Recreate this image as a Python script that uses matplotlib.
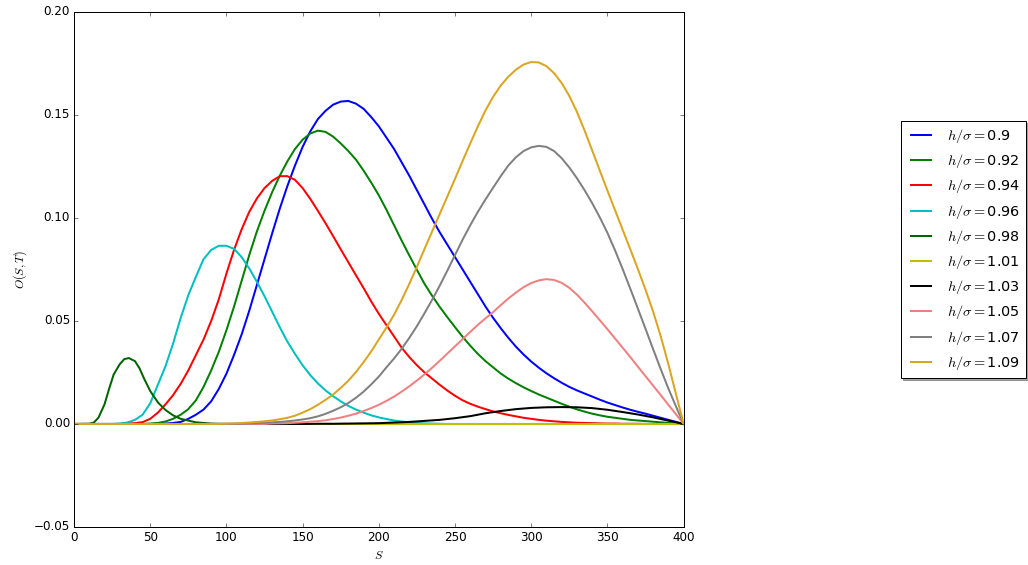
import matplotlib
matplotlib.use('Agg')
from matplotlib import pyplot as plt

###########################
# données (pas de 5 sur S)
S5 = list(range(0, 401, 5))

O_090 = [0, 0, 0, 0, 0, 0, 0, 0, 0, 0, 0,
         0.0001, 0.0002, 0.0005, 0.001, 0.0025, 0.0045, 0.007, 0.011, 0.017, 0.0244,
         0.0335, 0.0435, 0.055, 0.0675, 0.080, 0.0925, 0.1045, 0.1155, 0.1255, 0.1345,
         0.142, 0.148, 0.152, 0.155, 0.1565, 0.1568, 0.1555, 0.153, 0.149, 0.1445,
         0.139, 0.1335, 0.127, 0.1205, 0.1135, 0.1065, 0.0995, 0.093, 0.087, 0.081,
         0.075, 0.069, 0.063, 0.057, 0.0515, 0.0465, 0.0418, 0.0375, 0.0337, 0.0303,
         0.0273, 0.0246, 0.0222, 0.020, 0.018, 0.0163, 0.0148, 0.0133, 0.0118, 0.0104,
         0.0092, 0.008, 0.0069, 0.0059, 0.005, 0.004, 0.003, 0.002, 0.001, 0]
O_092 = [0, 0, 0, 0, 0, 0, 0, 0, 0, 0, 0.0002,
         0.0005, 0.0012, 0.0025, 0.0045, 0.0072, 0.0115, 0.018, 0.026, 0.035, 0.0455,
         0.057, 0.0695, 0.082, 0.0935, 0.1035, 0.1125, 0.1205, 0.1275, 0.1335, 0.138,
         0.141, 0.1424, 0.1418, 0.1395, 0.1362, 0.1325, 0.1283, 0.123, 0.1172, 0.111,
         0.104, 0.0965, 0.089, 0.0818, 0.0748, 0.068, 0.0622, 0.0568, 0.0518, 0.047,
         0.0423, 0.038, 0.034, 0.0305, 0.0275, 0.0245, 0.022, 0.0198, 0.0178, 0.016,
         0.0143, 0.0128, 0.0113, 0.0098, 0.0084, 0.0071, 0.006, 0.005, 0.0042, 0.0035,
         0.003, 0.0025, 0.002, 0.0017, 0.0014, 0.0011, 0.0008, 0.0005, 0.0002, 0]
O_094 = [0, 0, 0, 0, 0, 0, 0, 0.0002,
         0.0004, 0.0009, 0.0025, 0.0055, 0.0095, 0.014, 0.0195, 0.026, 0.0335, 0.041,
         0.050, 0.0605, 0.073, 0.0845, 0.0945, 0.103, 0.1095, 0.1145, 0.118, 0.1203,
         0.1203, 0.1185, 0.1145, 0.1093, 0.1035, 0.0975, 0.0912, 0.0848, 0.0785, 0.0722,
         0.066, 0.0595, 0.0535, 0.048, 0.0425, 0.037, 0.0325, 0.0285, 0.025, 0.022,
         0.019, 0.0162, 0.0137, 0.0115, 0.0098, 0.0084, 0.0072, 0.0061, 0.0052, 0.0044,
         0.0037, 0.003, 0.0025, 0.002, 0.0016, 0.0013, 0.001, 0.0008, 0.0006, 0.0005,
         0.0004, 0.0003, 0.0002, 0.0002, 0.0001, 0.0001, 0.0001, 0, 0, 0, 0, 0, 0]
O_096 = [0, 0, 0, 0, 0, 0,
         0.0002, 0.0007, 0.002, 0.0045, 0.010, 0.019, 0.028, 0.039, 0.0515, 0.0625,
         0.0715, 0.080, 0.0845, 0.0865, 0.0865, 0.085, 0.081, 0.0755, 0.069, 0.062,
         0.0545, 0.047, 0.040, 0.034, 0.0285, 0.0237, 0.0197, 0.0163, 0.0135, 0.011,
         0.0088, 0.007, 0.0055, 0.0042, 0.0032, 0.0024, 0.0017, 0.0012, 0.0008, 0.0005,
         0.0003, 0.0002, 0.0001,
         0, 0, 0, 0, 0, 0, 0, 0, 0, 0, 0, 0, 0, 0, 0, 0,
         0, 0, 0, 0, 0, 0, 0, 0, 0, 0, 0, 0, 0, 0, 0, 0]
O_101 = [0] * len(S5)
O_105 = [0, 0, 0, 0, 0, 0, 0, 0, 0, 0, 0, 0, 0, 0, 0, 0, 0, 0, 0, 0, 0, 0, 0, 0, 0, 0,
         0.0002, 0.0003, 0.0004, 0.0006, 0.0008, 0.0011, 0.0014, 0.0018, 0.0024, 0.0031,
         0.004, 0.005, 0.0063, 0.0077, 0.0093, 0.0112, 0.0133, 0.0157, 0.0183, 0.0211,
         0.0241, 0.0273, 0.0307, 0.0342, 0.0377, 0.0412, 0.0447, 0.0481, 0.0513, 0.0543,
         0.0577, 0.0609, 0.0638, 0.0664, 0.0684, 0.0697, 0.0703, 0.0699, 0.0685, 0.0661,
         0.0628, 0.0589, 0.0547, 0.0504, 0.046, 0.0415, 0.037, 0.0325, 0.0278, 0.0232,
         0.0186, 0.014, 0.0093, 0.0047, 0]
O_107 = [0, 0, 0, 0, 0, 0, 0, 0, 0, 0, 0, 0, 0, 0, 0, 0, 0, 0, 0, 0,
         0.0001, 0.0001, 0.0002, 0.0003, 0.0004, 0.0006, 0.0008, 0.001, 0.0013, 0.0017,
         0.0022, 0.0028, 0.0037, 0.0049, 0.0064, 0.0081, 0.0102, 0.0127, 0.0157, 0.0192,
         0.023, 0.0275, 0.0318, 0.0365, 0.0418, 0.0475, 0.0538, 0.0603, 0.0672, 0.0745,
         0.082, 0.0895, 0.0965, 0.103, 0.109, 0.1147, 0.1203, 0.1255, 0.1295, 0.1325,
         0.1343, 0.135, 0.1345, 0.1325, 0.129, 0.1245, 0.1193, 0.1135, 0.1072, 0.1003,
         0.0928, 0.0843, 0.0752, 0.0657, 0.056, 0.0462, 0.0363, 0.0266, 0.0172, 0.0085, 0]
O_109 = [0, 0, 0, 0, 0, 0, 0, 0, 0, 0, 0, 0, 0, 0, 0, 0, 0, 0, 0, 0,
         0.0002, 0.0003, 0.0005, 0.0007, 0.001, 0.0013, 0.0017, 0.0023, 0.003, 0.004,
         0.0055, 0.0072, 0.0093, 0.0117, 0.0143, 0.0175, 0.021, 0.0252, 0.030, 0.0352,
         0.041, 0.0468, 0.053, 0.0602, 0.068, 0.0763, 0.085, 0.0935, 0.102, 0.1105,
         0.119, 0.1277, 0.1362, 0.1445, 0.1522, 0.1588, 0.1643, 0.1686, 0.172, 0.1745,
         0.1757, 0.1755, 0.1737, 0.1703, 0.1655, 0.1592, 0.1515, 0.1425, 0.1328, 0.123,
         0.1133, 0.1038, 0.0943, 0.0848, 0.0752, 0.0652, 0.0545, 0.0425, 0.029, 0.0145, 0]

# courbe 1.03: petite bosse, pas de 10
S10 = list(range(0, 401, 10))
O_103 = [0, 0, 0, 0, 0, 0, 0, 0, 0, 0, 0, 0, 0, 0, 0, 0, 0.0001, 0.0001, 0.0002, 0.0003, 0.0004,
         0.0007, 0.001, 0.0015, 0.002, 0.0028, 0.0038, 0.0052, 0.0063, 0.0072, 0.0078, 0.0081,
         0.0082, 0.0081, 0.0077, 0.0069, 0.0058, 0.0046, 0.0032, 0.0016, 0]

# courbe 0.98: pic étroit, grille plus fine
S_098 = [0, 10, 13, 16, 20, 23, 26, 30, 33, 36, 40, 43, 46, 50, 55, 60, 65, 70, 80, 90, 100, 400]
O_098 = [0, 0.0001, 0.0007, 0.003, 0.0095, 0.017, 0.024, 0.029, 0.0315, 0.032, 0.0305, 0.027,
         0.022, 0.016, 0.0105, 0.0068, 0.0042, 0.0025, 0.0008, 0.0002, 0, 0]

ratios = ['0.9', '0.92', '0.94', '0.96', '0.98', '1.01', '1.03', '1.05', '1.07', '1.09']
couleurs = ['b', 'g', 'r', 'c', 'darkgreen', 'y', 'k', 'lightcoral', 'gray', 'goldenrod']
###########################

courbes = [(S5, O_090), (S5, O_092), (S5, O_094), (S5, O_096), (S_098, O_098),
           (S5, O_101), (S10, O_103), (S5, O_105), (S5, O_107), (S5, O_109)]

plt.style.use('classic')
fig = plt.figure(figsize=(1028 / 72, 565 / 72), dpi=72)
ax = fig.add_axes([0.072, 0.0673, 0.593, 0.9115])

for (S, O), h, c in zip(courbes, ratios, couleurs):
    ax.plot(S, O, color=c, lw=2, label=r'$h/\sigma=$' + h)

ax.set_xlim(0, 400)
ax.set_ylim(-0.05, 0.2)
ax.set_xlabel('$S$')
ax.set_ylabel('$O(S,T)$')
ax.legend(loc='center left', bbox_to_anchor=(1.344, 0.539), shadow=True, fontsize='large')

fig.savefig('out.png', dpi=72)
